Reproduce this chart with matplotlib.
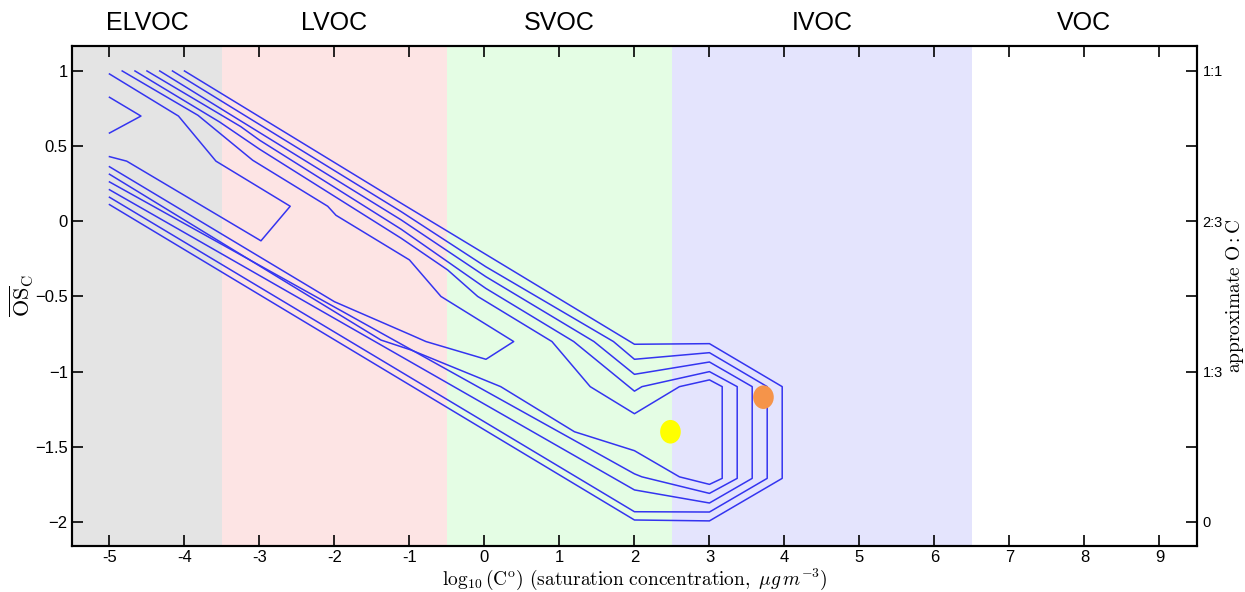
import matplotlib
matplotlib.use('Agg')
import matplotlib.pyplot as plt
from matplotlib.patches import Ellipse
from matplotlib.transforms import blended_transform_factory

plt.rcParams['mathtext.fontset'] = 'cm'

# volatility classes (log10 C0 ranges)
band_edges = [-5.5, -3.5, -0.5, 2.5, 6.5, 9.5]
band_names = ['ELVOC', 'LVOC', 'SVOC', 'IVOC', 'VOC']
band_colors = ['#e4e4e4', '#fde4e4', '#e4fde4', '#e4e4fd', '#ffffff']

# contour lines (x = log10 C0, y = OSc)
v_x = [-5.0, -4.58, -5.0]
v_y = [0.825, 0.70, 0.587]

a_x = [-5.0, -4.08, -3.58, -2.59, -2.98, -4.77, -5.0]
a_y = [0.98, 0.70, 0.40, 0.10, -0.13, 0.40, 0.43]

b_x = [-4.83, -3.82, -3.09, -2.09, -1.98, -1.0, -0.58, 0.39, 0.02, -0.78, -0.98, -2.0, -5.0]
b_y = [1.0, 0.705, 0.406, 0.10, 0.04, -0.257, -0.50, -0.80, -0.918, -0.80, -0.756, -0.535, 0.363]

c_x = [-4.66, -3.53, -3.0, -1.11, -0.49, -0.09, 0.9, 1.41, 2.0, 2.6, 3.0, 3.17, 3.17, 3.0, 2.6, 2.0, 1.2, 0.217, -0.49, -0.98, -1.38, -5.0]
c_y = [1.0, 0.66, 0.48, -0.113, -0.324, -0.5, -0.8, -1.1, -1.28, -1.1, -1.055, -1.1, -1.71, -1.75, -1.70, -1.526, -1.40, -1.10, -0.956, -0.856, -0.79, 0.313]

d_x = [-4.5, -3.25, -3.0, -1.11, 0.017, 1.19, 2.0, 2.1, 3.0, 3.37, 3.37, 3.0, 2.1, 2.0, -5.0]
d_y = [1.0, 0.63, 0.54, -0.053, -0.446, -0.80, -1.13, -1.10, -1.0, -1.1, -1.71, -1.81, -1.70, -1.68, 0.262]

e_x = [-4.33, -1.11, 0.017, 1.46, 2.0, 3.0, 3.57, 3.57, 3.0, 2.0, -5.0]
e_y = [1.0, 0.009, -0.368, -0.80, -1.018, -0.936, -1.1, -1.71, -1.874, -1.787, 0.210]

f_x = [-4.16, -1.11, 0.017, 1.72, 2.0, 3.0, 3.77, 3.77, 3.0, 2.0, -5.0]
f_y = [1.0, 0.064, -0.302, -0.80, -0.918, -0.874, -1.1, -1.71, -1.934, -1.932, 0.160]

g_x = [-4.0, -1.11, 2.0, 3.0, 3.97, 3.97, 3.0, 2.0, -5.0]
g_y = [1.0, 0.12, -0.818, -0.814, -1.1, -1.71, -1.993, -1.987, 0.111]

contours = [(v_x, v_y), (a_x, a_y), (b_x, b_y), (c_x, c_y),
            (d_x, d_y), (e_x, e_y), (f_x, f_y), (g_x, g_y)]

# the two marked compounds
point_x = [2.48, 3.72]
point_y = [-1.40, -1.17]
point_colors = ['#ffff00', '#f5944a']

x_ticks = list(range(-5, 10))
y_ticks = [-2, -1.5, -1, -0.5, 0, 0.5, 1]
y_ticklabels = ['\u22122', '\u22121.5', '\u22121', '\u22120.5', '0', '0.5', '1']
oc_ticklabels = ['0', '', '1:3', '', '2:3', '', '1:1']

fig = plt.figure(figsize=(12.45, 5.92), dpi=100)
ax = fig.add_axes([0.0578, 0.0777, 0.9036, 0.8446])

for i in range(len(band_names)):
    ax.axvspan(band_edges[i], band_edges[i + 1], color=band_colors[i], lw=0, zorder=0)

for cx, cy in contours:
    ax.plot(cx, cy, color='#3434f0', lw=1.1, zorder=2)

for px, py, pc in zip(point_x, point_y, point_colors):
    ax.add_patch(Ellipse((px, py), 0.275, 0.157, facecolor=pc, edgecolor='none', zorder=3))

ax.set_xlim(-5.5, 9.5)
ax.set_ylim(-2.16, 1.166)

sans = ['Liberation Sans', 'DejaVu Sans']
ax.set_xticks(x_ticks)
ax.set_xticklabels([str(v) for v in x_ticks], family=sans, fontsize=12)
ax.set_yticks(y_ticks)
ax.set_yticklabels(y_ticklabels, family=sans, fontsize=12)
ax.tick_params(direction='in', length=8, width=1.2, top=True, right=False)
ax.tick_params(axis='y', pad=3)
ax.tick_params(axis='x', pad=3)

ax2 = ax.twinx()
ax2.set_ylim(ax.get_ylim())
ax2.set_yticks(y_ticks)
ax2.set_yticklabels(oc_ticklabels, family=sans, fontsize=10.5)
ax2.tick_params(direction='in', length=8, width=1.2, pad=4)

for a in (ax, ax2):
    for s in a.spines.values():
        s.set_linewidth(1.5)

trans = blended_transform_factory(ax.transData, ax.transAxes)
for i, name in enumerate(band_names):
    mid = (band_edges[i] + band_edges[i + 1]) / 2
    ax.text(mid, 1.046, name, transform=trans, ha='center', va='center',
            family=sans, fontsize=18)

fig.text(0.5095, 0.021,
         r'$\log_{10}(\mathrm{C^o})\ \mathrm{(saturation\ concentration,}\ \mu g\, m^{-3}\mathrm{)}$',
         ha='center', va='center', fontsize=14)
fig.text(0.0175, 0.5, r'$\overline{\mathrm{OS}}_\mathrm{C}$', rotation=90,
         ha='center', va='center', fontsize=16)
fig.text(0.9918, 0.5, r'$\mathrm{approximate\ O{:}C}$', rotation=90,
         ha='center', va='center', fontsize=14)

fig.savefig('out.png', dpi=100)
